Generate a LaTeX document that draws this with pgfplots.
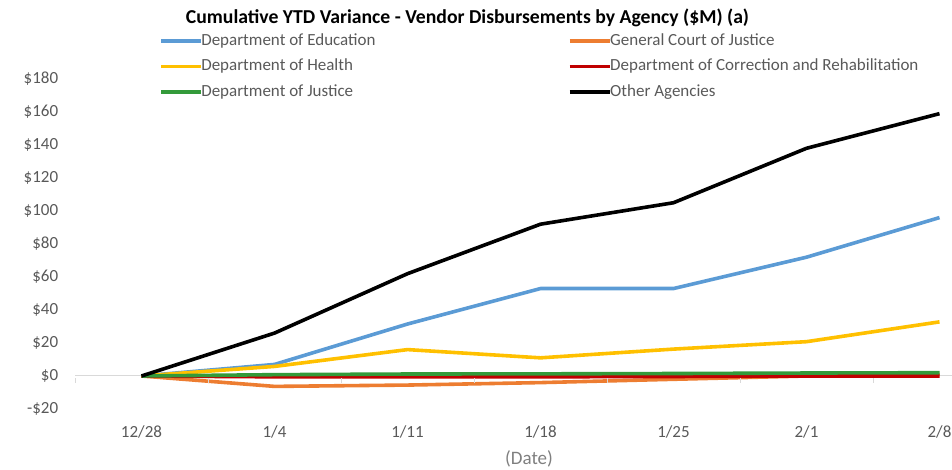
\documentclass[border=0pt]{standalone}
\usepackage{pgfplots}
\pgfplotsset{compat=1.18}
\usepackage{fontspec}
\setmainfont{Carlito}
\definecolor{cblue}{HTML}{5B9BD5}
\definecolor{corange}{HTML}{ED7D31}
\definecolor{cyellow}{HTML}{FFC000}
\definecolor{cred}{HTML}{C00000}
\definecolor{cgreen}{HTML}{339A3A}
\definecolor{tickgray}{HTML}{595959}
\definecolor{labgray}{HTML}{7F7F7F}
\definecolor{zerogray}{HTML}{D9D9D9}
\begin{document}
\fontsize{17pt}{20pt}\selectfont
\begin{tikzpicture}[x=1pt,y=1pt]
\useasboundingbox (0,0) rectangle (952,470);
\begin{axis}[
  at={(75pt,61pt)}, anchor=south west,
  scale only axis, width=877pt, height=330pt,
  xmin=-0.5, xmax=6.094, ymin=-20, ymax=180,
  axis line style={draw=none}, tick style={draw=none},
  xtick={0,...,6},
  xticklabels={12/28,1/4,1/11,1/18,1/25,2/1,2/8},
  ytick={-20,0,20,40,60,80,100,120,140,160,180},
  yticklabels={-\$20,\$0,\$20,\$40,\$60,\$80,\$100,\$120,\$140,\$160,\$180},
  ticklabel style={text=tickgray, font=\fontsize{17pt}{20pt}\selectfont},
  xticklabel style={yshift=-11pt},
  yticklabel style={xshift=-11pt},
  /pgf/number format/assume math mode=true,
  clip=false,
  line join=round,
  legend columns=2,
  legend cell align=left,
  legend style={at={(axis description cs:0.0958,1.1394)}, anchor=north west,
    draw=none, fill=none, inner sep=0pt, text=tickgray,
    font=\fontsize{17pt}{20pt}\selectfont,
    nodes={inner xsep=1pt, inner ysep=0pt, text height=12pt, text depth=4pt},
    /tikz/row sep=9.5pt,
    /tikz/column 2/.append style={column sep=191.5pt}},
  legend image code/.code={\path (0pt,0pt) -- (37.5pt,0pt); \draw[#1,overlay] (0pt,0pt) -- (40pt,0pt);},
  every axis plot/.append style={line width=3.6pt},
]
\addplot[zerogray, line width=1pt, forget plot] coordinates {(-0.5,0) (6.094,0)};
\addplot[cblue] coordinates {(0,0) (1,7) (2,31.5) (3,53) (4,53) (5,72) (6,96)};
\addlegendentry{Department of Education}
\addplot[corange] coordinates {(0,0) (1,-6.3) (2,-5.5) (3,-4) (4,-2) (5,0) (6,1)};
\addlegendentry{General Court of Justice}
\addplot[cyellow] coordinates {(0,0) (1,5.8) (2,16) (3,11) (4,16.3) (5,20.8) (6,32.8)};
\addlegendentry{Department of Health}
\addplot[cred] coordinates {(0,0) (1,-0.5) (2,-0.5) (3,-0.5) (4,-0.3) (5,0) (6,0)};
\addlegendentry{Department of Correction and Rehabilitation}
\addplot[cgreen] coordinates {(0,0) (1,0.8) (2,1.2) (3,1.3) (4,1.5) (5,1.8) (6,2)};
\addlegendentry{Department of Justice}
\addplot[black] coordinates {(0,0) (1,26) (2,62) (3,92) (4,105) (5,138) (6,159)};
\addlegendentry{Other Agencies}
\end{axis}
\foreach \px in {75,208,341.5,474.5,607.5,740.5,873.5} {\draw[zerogray, line width=1pt] (\px,91.5) -- (\px,86.5);}
\node[font=\bfseries\fontsize{19.7pt}{24pt}\selectfont] at (467.5,452) {Cumulative YTD Variance - Vendor Disbursements by Agency (\$M) (a)};
\node[text=labgray, font=\fontsize{19pt}{22pt}\selectfont] at (529,11) {(Date)};
\end{tikzpicture}
\end{document}
